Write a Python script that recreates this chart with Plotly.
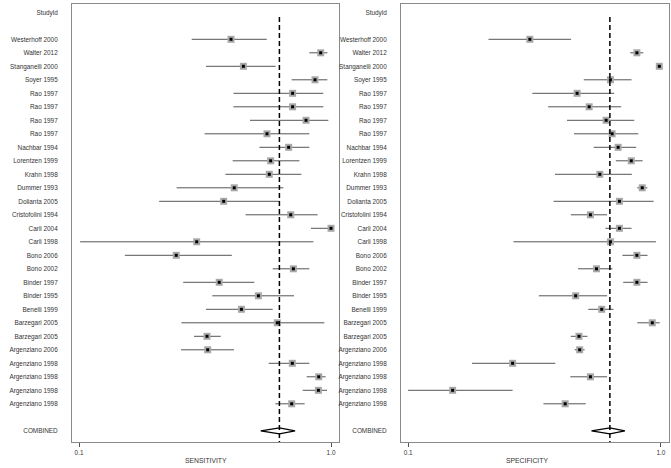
import plotly.graph_objects as go

studies = ["Westerhoff 2000", "Walter 2012", "Stanganelli 2000", "Soyer 1995",
           "Rao 1997", "Rao 1997", "Rao 1997", "Rao 1997", "Nachbar 1994",
           "Lorentzen 1999", "Krahn 1998", "Dummer 1993", "Dolianta 2005",
           "Cristofolini 1994", "Carli 2004", "Carli 1998", "Bono 2006",
           "Bono 2002", "Binder 1997", "Binder 1995", "Benelli 1999",
           "Barzegari 2005", "Barzegari 2005", "Argenziano 2006",
           "Argenziano 1998", "Argenziano 1998", "Argenziano 1998", "Argenziano 1998"]

sens = [0.401, 0.910, 0.449, 0.864, 0.704, 0.704, 0.796, 0.557, 0.679,
        0.576, 0.569, 0.413, 0.375, 0.692, 1.000, 0.293, 0.243, 0.709,
        0.360, 0.515, 0.441, 0.612, 0.322, 0.324, 0.702, 0.894, 0.891, 0.698]
sens_lo = [0.280, 0.820, 0.319, 0.698, 0.410, 0.410, 0.477, 0.315, 0.520,
           0.407, 0.381, 0.244, 0.208, 0.458, 0.833, 0.101, 0.152, 0.587,
           0.259, 0.338, 0.319, 0.255, 0.286, 0.254, 0.566, 0.801, 0.772, 0.601]
sens_hi = [0.556, 0.967, 0.603, 0.967, 0.932, 0.932, 0.976, 0.820, 0.820,
           0.749, 0.763, 0.647, 0.624, 0.885, 1.000, 0.851, 0.404, 0.820,
           0.496, 0.713, 0.587, 0.941, 0.365, 0.412, 0.820, 0.952, 0.964, 0.786]

spec = [0.303, 0.803, 0.985, 0.631, 0.466, 0.520, 0.607, 0.641, 0.677,
        0.763, 0.573, 0.843, 0.685, 0.526, 0.685, 0.631, 0.803, 0.556,
        0.803, 0.460, 0.583, 0.924, 0.474, 0.477, 0.259, 0.526, 0.150, 0.418]
spec_lo = [0.208, 0.756, 0.970, 0.495, 0.310, 0.358, 0.425, 0.453, 0.542,
           0.663, 0.381, 0.806, 0.376, 0.440, 0.603, 0.261, 0.704, 0.470,
           0.709, 0.329, 0.516, 0.806, 0.440, 0.456, 0.179, 0.438, 0.100, 0.343]
spec_hi = [0.441, 0.851, 1.000, 0.765, 0.653, 0.696, 0.784, 0.813, 0.798,
           0.846, 0.767, 0.883, 0.935, 0.612, 0.765, 0.955, 0.885, 0.643,
           0.885, 0.612, 0.649, 0.988, 0.512, 0.499, 0.382, 0.612, 0.259, 0.504]

combined_sens = [0.526, 0.624, 0.720]   # lo, est, hi
combined_spec = [0.531, 0.628, 0.720]

x_ticks = [0.1, 1.0]
x_tick_text = ["0.1", "1.0"]
axis_titles = ["SENSITIVITY", "SPECIFICITY"]

FONT = "Liberation Sans, Arial, sans-serif"
FS = 6.4
n = len(studies)
ypos = list(range(2, 2 + n))
y_comb = n + 3
tickvals = [0] + ypos + [y_comb]
ticktext = ["Studyld"] + studies + ["COMBINED"]

fig = go.Figure()

panels = [
    (sens, sens_lo, sens_hi, combined_sens, "x", "y"),
    (spec, spec_lo, spec_hi, combined_spec, "x2", "y2"),
]
for vals, lo, hi, comb, xa, ya in panels:
    fig.add_trace(go.Scatter(
        x=vals, y=ypos, xaxis=xa, yaxis=ya, mode="markers",
        marker=dict(symbol="square", size=7, color="#a8a8a8", line=dict(width=0)),
        error_x=dict(type="data", symmetric=False,
                     array=[h - v for h, v in zip(hi, vals)],
                     arrayminus=[v - l for v, l in zip(vals, lo)],
                     color="#555555", thickness=1, width=0),
        showlegend=False, hoverinfo="skip"))
    fig.add_trace(go.Scatter(
        x=vals, y=ypos, xaxis=xa, yaxis=ya, mode="markers",
        marker=dict(symbol="square", size=3, color="black", line=dict(width=0)),
        showlegend=False, hoverinfo="skip"))
    lo_c, est_c, hi_c = comb
    fig.add_trace(go.Scatter(
        x=[lo_c, est_c, hi_c, est_c, lo_c],
        y=[y_comb, y_comb - 0.22, y_comb, y_comb + 0.22, y_comb],
        xaxis=xa, yaxis=ya, mode="lines", fill="toself", fillcolor="white",
        line=dict(color="black", width=1.3),
        showlegend=False, hoverinfo="skip"))
    fig.add_shape(type="line", xref=xa, yref=ya, x0=est_c, x1=est_c,
                  y0=0.35, y1=31.83,
                  line=dict(color="black", width=1.5, dash="5px,3px"))

ax_common = dict(type="log", range=[-1.028, 0.0317], tickvals=x_ticks,
                 ticktext=x_tick_text, ticks="outside", ticklen=4,
                 tickcolor="#555", showline=True, mirror=True,
                 linecolor="#8a8a8a", linewidth=1, showgrid=False,
                 zeroline=False, tickfont=dict(size=FS, color="#333", family=FONT))
ay_common = dict(range=[31.83, -0.615], tickvals=tickvals, ticktext=ticktext,
                 ticks="", showline=True, mirror=True, linecolor="#8a8a8a",
                 linewidth=1, showgrid=False, zeroline=False,
                 ticklabelstandoff=12,
                 tickfont=dict(size=FS, color="#333", family=FONT))

W, H = 671, 468
ml, mr, mt, mb = 72, 2, 4, 26
pw = W - ml - mr
fig.update_layout(
    width=W, height=H,
    margin=dict(l=ml, r=mr, t=mt, b=mb, autoexpand=False),
    paper_bgcolor="white", plot_bgcolor="white",
    xaxis=dict(domain=[0, (339 - ml) / pw], anchor="y", **ax_common),
    yaxis=dict(domain=[0, 1], anchor="x", **ay_common),
    xaxis2=dict(domain=[(401 - ml) / pw, 1.0], anchor="y2", **ax_common),
    yaxis2=dict(domain=[0, 1], anchor="x2", **ay_common),
    font=dict(family=FONT, size=FS, color="#333"),
)

for title, xc in zip(axis_titles, [206, 527]):
    fig.add_annotation(text=title, xref="paper", yref="paper",
                       x=(xc - ml) / pw, y=0, xanchor="center", yanchor="middle",
                       yshift=-18, showarrow=False,
                       font=dict(size=FS + 0.4, color="#333", family=FONT))

fig.write_html("out.html", config={"displayModeBar": False},
               post_script="document.body.style.margin='0px';document.body.style.padding='0px';")
